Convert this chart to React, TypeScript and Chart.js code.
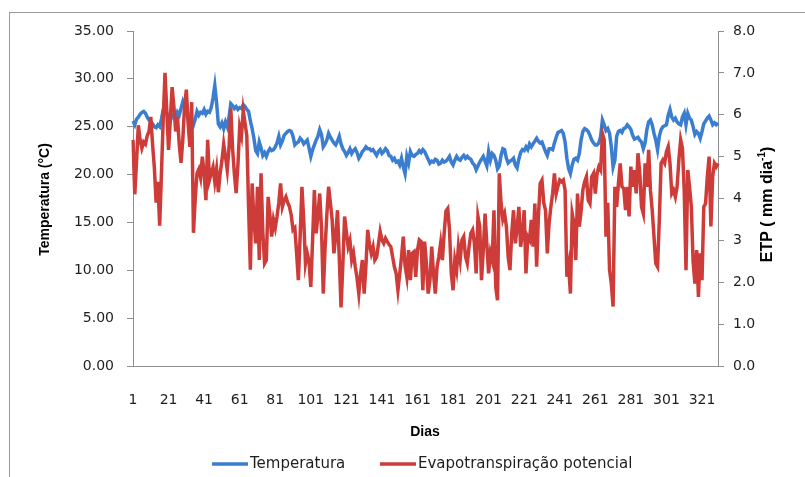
import React, { useEffect, useRef } from "react";
import { Chart, registerables } from "chart.js";

Chart.register(...registerables);

// Daily series, days 1..330
const dayCount = 330;
const days: string[] = Array.from({ length: dayCount }, (_, i) => String(i + 1));

// Mean air temperature (°C)
const temperatura: number[] = [
  25.6, 25.2, 25.8, 26.0, 26.3, 26.5, 26.6, 26.4, 26.0, 25.7,
  25.5, 25.3, 25.0, 24.9, 25.2, 25.0, 25.8, 26.8, 27.0, 26.4,
  26.0, 25.6, 26.2, 26.0, 25.8, 26.5, 26.2, 26.9, 27.6, 27.0,
  26.5, 25.8, 25.4, 25.6, 25.2, 25.8, 26.6, 26.2, 26.5, 26.4,
  26.8, 26.3, 26.6, 26.5, 27.0, 28.0, 29.3, 27.5, 25.3, 25.0,
  25.4, 24.8, 25.5, 25.0, 26.0, 27.4, 27.2, 26.9, 27.1, 26.8,
  27.0, 26.9, 27.3, 27.1, 26.8, 26.6, 25.6, 24.8, 23.8, 22.5,
  22.2, 23.4, 22.8, 22.0, 22.3, 21.9, 22.4, 22.7, 22.5, 22.6,
  22.9, 23.3, 24.0, 23.1, 23.5, 24.1, 24.3, 24.5, 24.6, 24.5,
  24.0, 23.1, 23.3, 23.4, 23.8, 23.6, 23.2, 23.4, 23.6, 22.8,
  21.9, 22.6, 23.1, 23.6, 24.0, 24.7, 24.2, 22.9, 23.2, 23.6,
  24.3, 23.9, 23.6, 23.3, 23.1, 23.5, 24.0, 23.2, 22.7, 22.4,
  22.0, 22.3, 22.7, 22.2, 22.5, 22.7, 22.3, 21.7, 22.0, 22.4,
  22.6, 22.9, 22.7, 22.7, 22.5, 22.6, 22.3, 22.0, 22.4, 22.6,
  22.2, 22.4, 22.7, 22.5, 22.0, 21.9, 21.5, 21.7, 21.3, 21.4,
  21.0, 21.7, 20.8, 20.1, 21.9, 21.2, 22.4, 22.0, 21.9, 22.1,
  22.2, 22.5, 22.3, 22.6, 22.4, 22.0, 21.6, 21.2, 21.4, 21.3,
  21.6, 21.5, 21.1, 21.2, 21.5, 21.3, 21.4, 21.6, 21.9, 21.3,
  21.0, 21.5, 21.9, 21.6, 21.5, 21.8, 22.0, 21.7, 21.9, 21.7,
  21.6, 21.2, 21.0, 20.5, 20.9, 21.3, 21.6, 21.9, 21.4, 20.9,
  22.4, 21.5, 22.2, 22.0, 21.5, 20.6, 20.9, 22.0, 22.7, 22.6,
  21.7, 21.2, 21.4, 21.5, 21.7, 21.0, 20.7, 21.6, 22.3, 22.6,
  22.5, 22.9, 22.6, 23.2, 22.9, 23.2, 23.5, 23.8, 23.5, 23.3,
  23.4, 22.9, 22.4, 22.0, 22.7, 22.7, 22.6, 23.3, 23.9, 24.4,
  24.5, 24.6, 24.3, 23.4, 21.7, 20.6, 20.1, 21.0, 21.6, 21.7,
  21.5, 22.2, 23.6, 24.5, 24.8, 24.7, 24.5, 24.1, 23.6, 23.3,
  23.1, 23.1, 23.3, 24.0, 25.7, 25.2, 24.6, 24.8, 24.3, 22.9,
  20.8, 21.5, 24.0, 24.5, 24.6, 24.4, 24.8, 24.9, 25.2, 25.0,
  24.7, 24.1, 23.7, 23.8, 23.9, 23.6, 23.4, 22.7, 23.3, 24.7,
  25.5, 25.7, 25.2, 24.3, 23.6, 22.6, 24.0, 24.7, 25.0, 25.1,
  25.2, 26.2, 26.8, 26.0, 25.7, 25.9, 25.5, 25.3, 25.2, 26.0,
  26.4, 25.2, 26.4, 25.9, 25.7, 25.0, 24.2, 24.5, 24.3, 23.8,
  24.5, 25.3, 25.6, 25.9, 26.1, 25.7, 25.2, 25.4, 25.2, 25.4,
];

// Potential evapotranspiration (mm dia-1)
const etp: number[] = [
  5.4, 4.1, 4.9, 5.75, 5.4, 5.2, 5.35, 5.3, 5.5, 5.6,
  5.95, 5.3, 4.75, 3.9, 4.4, 3.35, 4.6, 5.9, 7.0, 6.1,
  5.16, 5.9, 6.66, 6.2, 5.6, 5.95, 5.3, 4.85, 5.4, 6.2,
  6.6, 5.8, 5.23, 6.3, 3.18, 4.0, 4.6, 4.7, 4.5, 5.0,
  4.6, 3.96, 5.4, 4.44, 4.6, 4.75, 4.4, 4.7, 4.15, 4.6,
  4.9, 5.3, 5.0, 4.68, 5.2, 6.15, 5.2, 4.6, 4.13, 4.8,
  5.7, 5.5, 6.1, 5.8, 5.5, 3.8, 2.3, 4.36, 3.5, 2.93,
  4.28, 2.53, 4.6, 3.2, 2.45, 2.53, 4.04, 3.6, 3.09, 3.49,
  3.3, 3.57, 3.9, 4.36, 3.8, 3.95, 4.04, 3.9, 3.8, 3.6,
  3.25, 3.3, 2.7, 2.05, 3.1, 4.28, 3.5, 2.45, 2.69, 2.5,
  1.89, 3.0, 4.2, 3.17, 3.6, 4.12, 3.3, 1.73, 2.8, 3.6,
  4.28, 3.9, 3.49, 2.69, 3.1, 3.72, 2.6, 1.4, 2.4, 3.57,
  3.2, 2.85, 3.0, 2.53, 2.7, 2.37, 2.1, 1.73, 2.2, 2.53,
  1.73, 2.4, 3.25, 2.9, 2.69, 2.85, 2.53, 2.6, 2.9, 3.21,
  3.01, 2.93, 3.05, 2.97, 2.9, 2.85, 2.61, 2.37, 2.21, 1.81,
  2.2, 2.6, 3.09, 2.4, 2.13, 2.77, 2.05, 2.69, 2.73, 2.13,
  2.77, 3.01, 2.97, 1.81, 2.97, 2.45, 1.73, 2.05, 2.85, 2.21,
  1.73, 2.37, 2.61, 2.93, 2.53, 3.17, 3.7, 3.76, 3.25, 2.21,
  1.81, 2.53, 2.29, 2.85, 2.53, 3.01, 3.09, 2.61, 2.45, 2.85,
  3.17, 3.25, 2.93, 2.21, 3.57, 3.33, 2.05, 2.77, 3.64, 2.9,
  2.21, 2.7, 2.53, 3.72, 1.89, 1.57, 4.6, 3.88, 3.5, 3.64,
  3.33, 2.6, 2.29, 3.17, 3.72, 2.93, 3.3, 3.8, 2.85, 3.17,
  3.72, 2.21, 3.09, 3.01, 3.49, 2.85, 3.88, 2.37, 3.57, 4.36,
  4.44, 3.9, 3.72, 2.69, 3.41, 3.8, 4.12, 4.6, 4.12, 4.3,
  4.44, 4.4, 4.44, 4.2, 2.13, 2.4, 1.73, 3.64, 3.41, 2.53,
  4.12, 3.33, 3.7, 4.2, 4.4, 4.52, 3.96, 3.88, 4.52, 4.6,
  4.12, 4.6, 4.76, 4.68, 5.55, 5.4, 3.09, 3.9, 2.3, 1.97,
  1.42, 4.28, 3.8, 4.36, 4.84, 4.28, 4.24, 3.72, 4.28, 3.57,
  4.76, 4.28, 4.68, 4.12, 5.08, 4.6, 3.8, 3.64, 4.84, 4.28,
  5.16, 4.2, 3.72, 3.09, 2.45, 2.37, 3.49, 4.84, 4.92, 4.84,
  5.12, 5.24, 4.84, 4.12, 4.2, 4.04, 4.28, 4.92, 5.4, 5.2,
  4.2, 2.29, 4.68, 4.28, 3.8, 2.5, 1.97, 2.77, 1.65, 2.69,
  2.05, 3.8, 3.88, 4.52, 5.0, 3.33, 4.52, 4.84, 4.76, 4.84,
];

// Axis ranges and tick texts
const tempMax = 35;
const tempStep = 5;
const etpMax = 8;
const etpStep = 1;
const etpTickLabels: string[] = ["0.0", "1.0", "2.0", "3", "4", "5", "6", "7.0", "8.0"];
const dayLabelEvery = 20;

const seriesNames = ["Temperatura", "Evapotranspiração potencial"];
const blue = "#3b7dcf";
const red = "#cd3c38";
const axisGray = "#8e8e8e";
const tickColor = "#1e1e1e";
const tickFont = { family: "'DejaVu Sans', Verdana, sans-serif", size: 14 };

const decorPlugin = {
  id: "decor",
  beforeDraw(chart: any) {
    const ctx = chart.ctx;
    ctx.save();
    ctx.fillStyle = "#ffffff";
    ctx.fillRect(0, 0, chart.width, chart.height);
    ctx.restore();
  },
  afterDraw(chart: any) {
    const ctx: CanvasRenderingContext2D = chart.ctx;
    const area = chart.chartArea;
    ctx.save();

    // outer frame
    ctx.strokeStyle = "#9a9a9a";
    ctx.lineWidth = 1;
    ctx.strokeRect(9.5, 12.5, 1000, 1000);

    ctx.fillStyle = "#000";
    const titleFont = "bold 14px 'Liberation Sans', Arial, sans-serif";
    const midY = (area.top + area.bottom) / 2;

    // left axis title
    ctx.save();
    ctx.translate(45, midY + 1);
    ctx.rotate(-Math.PI / 2);
    ctx.font = titleFont;
    ctx.textAlign = "center";
    ctx.textBaseline = "middle";
    ctx.fillText("Temperatura (°C)", 0, 0);
    ctx.restore();

    // right axis title with superscript
    ctx.save();
    ctx.translate(768, midY + 6);
    ctx.rotate(-Math.PI / 2);
    ctx.textBaseline = "middle";
    ctx.textAlign = "left";
    const rightFont = "bold 16px 'Liberation Sans', Arial, sans-serif";
    const supFont = "bold 10px 'Liberation Sans', Arial, sans-serif";
    const partA = "ETP ( mm dia";
    const partB = "-1";
    const partC = ")";
    ctx.font = rightFont;
    const wA = ctx.measureText(partA).width;
    const wC = ctx.measureText(partC).width;
    ctx.font = supFont;
    const wB = ctx.measureText(partB).width;
    let x = -(wA + wB + wC) / 2;
    ctx.font = rightFont;
    ctx.fillText(partA, x, 0);
    x += wA;
    ctx.font = supFont;
    ctx.fillText(partB, x, -6);
    x += wB;
    ctx.font = rightFont;
    ctx.fillText(partC, x, 0);
    ctx.restore();

    // x axis title
    ctx.font = titleFont;
    ctx.textAlign = "center";
    ctx.textBaseline = "middle";
    ctx.fillText("Dias", 425, 432);

    // legend
    const legY = 464;
    const legFont = "15px 'DejaVu Sans', Verdana, sans-serif";
    const items = [
      { x: 212, color: blue, text: seriesNames[0] },
      { x: 380, color: red, text: seriesNames[1] },
    ];
    ctx.font = legFont;
    ctx.textAlign = "left";
    ctx.textBaseline = "middle";
    for (const it of items) {
      ctx.strokeStyle = it.color;
      ctx.lineWidth = 3.5;
      ctx.beginPath();
      ctx.moveTo(it.x, legY);
      ctx.lineTo(it.x + 36, legY);
      ctx.stroke();
      ctx.fillStyle = "#1e1e1e";
      ctx.fillText(it.text, it.x + 38, legY);
    }
    ctx.restore();
  },
};

export default function App() {
  const canvasRef = useRef<HTMLCanvasElement | null>(null);

  useEffect(() => {
    const canvas = canvasRef.current;
    if (!canvas) return;
    const chart = new Chart(canvas, {
      type: "line",
      data: {
        labels: days,
        datasets: [
          {
            label: seriesNames[0],
            data: temperatura,
            borderColor: blue,
            backgroundColor: blue,
            borderWidth: 3.5,
            pointRadius: 0,
            tension: 0,
            yAxisID: "y",
            order: 2,
          },
          {
            label: seriesNames[1],
            data: etp,
            borderColor: red,
            backgroundColor: red,
            borderWidth: 3.5,
            pointRadius: 0,
            tension: 0,
            yAxisID: "y1",
            order: 1,
          },
        ],
      },
      options: {
        responsive: false,
        animation: false,
        devicePixelRatio: 1,
        layout: { padding: { top: 31, left: 0, right: 0, bottom: 0 } },
        plugins: {
          legend: { display: false },
          tooltip: { enabled: false },
          title: { display: false },
        },
        scales: {
          x: {
            type: "category",
            offset: false,
            grid: { display: false },
            border: { display: true, color: axisGray, width: 1 },
            ticks: {
              autoSkip: false,
              maxRotation: 0,
              minRotation: 0,
              padding: 18,
              color: tickColor,
              font: tickFont,
              callback: (_v: any, i: number) => (i % dayLabelEvery === 0 ? days[i] : ""),
            },
            afterFit: (s: any) => {
              s.height = 111;
            },
          },
          y: {
            position: "left",
            min: 0,
            max: tempMax,
            grid: { drawOnChartArea: false, drawTicks: true, tickLength: 6, color: axisGray },
            border: { display: true, color: axisGray, width: 1 },
            ticks: {
              stepSize: tempStep,
              padding: 13,
              color: tickColor,
              font: tickFont,
              callback: (v: any) => Number(v).toFixed(2),
            },
            afterFit: (s: any) => {
              s.width = 133;
            },
          },
          y1: {
            position: "right",
            min: 0,
            max: etpMax,
            grid: { drawOnChartArea: false, drawTicks: true, tickLength: 6, color: axisGray },
            border: { display: true, color: axisGray, width: 1 },
            ticks: {
              stepSize: etpStep,
              padding: 9,
              color: tickColor,
              font: tickFont,
              callback: (v: any) => etpTickLabels[Math.round(Number(v) / etpStep)] ?? "",
            },
            afterFit: (s: any) => {
              s.width = 87;
            },
          },
        },
      },
      plugins: [decorPlugin],
    });
    return () => chart.destroy();
  }, []);

  return (
    <div style={{ position: "fixed", left: 0, top: 0, width: 805, height: 477, background: "#fff" }}>
      <canvas ref={canvasRef} width={805} height={477} style={{ display: "block", width: 805, height: 477 }} />
    </div>
  );
}
